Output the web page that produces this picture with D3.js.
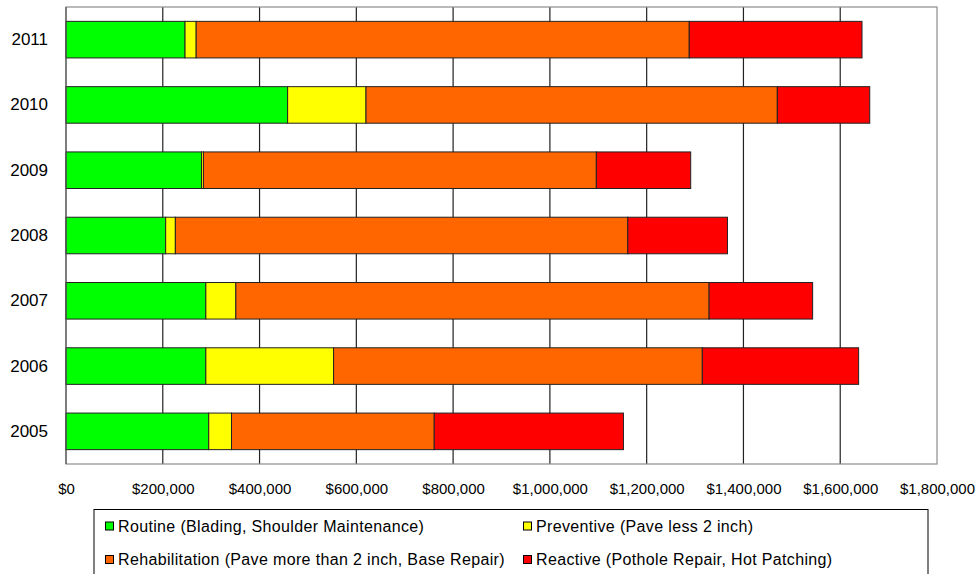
<!DOCTYPE html>
<html>
<head>
    <meta charset="utf-8">
    <title></title>
    <script src="https://d3js.org/d3.v7.min.js"></script>
    <style>
        html, body { margin: 0; padding: 0; background: white; }
        svg text { font-family: Arial, "Liberation Sans", sans-serif; fill: #000; }
    </style>
</head>
<body>
    <div id="chart"></div>
    <script>
        // years, top of chart first
        const years = ["2011", "2010", "2009", "2008", "2007", "2006", "2005"];

        const seriesNames = [
            "Routine (Blading, Shoulder Maintenance)",
            "Preventive (Pave less 2 inch)",
            "Rehabilitation (Pave more than 2 inch, Base Repair)",
            "Reactive (Pothole Repair, Hot Patching)"
        ];
        const seriesColors = ["#00ff00", "#ffff00", "#ff6600", "#ff0000"];

        // dollar amounts per year (same order as years)
        const routine        = [246000, 458000, 280000, 206000, 289000, 289000, 295000];
        const preventive     = [23000, 162000, 4000, 20000, 62000, 264000, 47000];
        const rehabilitation = [1019000, 850000, 812000, 935000, 978000, 762000, 419000];
        const reactive       = [357000, 191000, 195000, 206000, 214000, 323000, 391000];

        const xTicks = [0, 200000, 400000, 600000, 800000, 1000000, 1200000, 1400000, 1600000, 1800000];

        const width = 979, height = 574;
        const plot = { left: 66, right: 937, top: 7, bottom: 464 };

        const svg = d3.select("#chart").append("svg")
            .attr("width", width)
            .attr("height", height);

        const x = d3.scaleLinear()
            .domain([0, 1800000])
            .range([plot.left, plot.right]);

        const y = d3.scaleBand()
            .domain(years)
            .range([plot.top, plot.bottom])
            .paddingInner(0.44)
            .paddingOuter(0.22);

        // gridlines
        svg.append("g")
            .selectAll("line")
            .data(xTicks.slice(1, -1))
            .enter()
            .append("line")
            .attr("x1", d => x(d)).attr("x2", d => x(d))
            .attr("y1", plot.top).attr("y2", plot.bottom)
            .attr("stroke", "#222")
            .attr("stroke-width", 1.2);

        // plot frame
        svg.append("rect")
            .attr("x", plot.left)
            .attr("y", plot.top)
            .attr("width", plot.right - plot.left)
            .attr("height", plot.bottom - plot.top)
            .attr("fill", "none")
            .attr("stroke", "#8c8c8c")
            .attr("stroke-width", 1.2);

        // stacked data
        const table = years.map((yr, i) => ({
            year: yr,
            s0: routine[i], s1: preventive[i], s2: rehabilitation[i], s3: reactive[i]
        }));
        const stack = d3.stack().keys(["s0", "s1", "s2", "s3"])(table);

        svg.append("g")
            .selectAll("g")
            .data(stack)
            .enter()
            .append("g")
            .attr("fill", (d, i) => seriesColors[i])
            .selectAll("rect")
            .data(d => d)
            .enter()
            .append("rect")
            .attr("x", d => x(d[0]))
            .attr("y", d => y(d.data.year))
            .attr("width", d => x(d[1]) - x(d[0]))
            .attr("height", y.bandwidth())
            .attr("stroke", "#222")
            .attr("stroke-width", 1);

        // left axis line drawn over bar edges
        svg.append("line")
            .attr("x1", plot.left).attr("x2", plot.left)
            .attr("y1", plot.top).attr("y2", plot.bottom)
            .attr("stroke", "#555")
            .attr("stroke-width", 1.2);

        // x axis labels
        const fmt = d3.format("$,");
        svg.append("g")
            .attr("transform", `translate(0,${plot.bottom})`)
            .call(d3.axisBottom(x).tickValues(xTicks).tickFormat(d => fmt(d)).tickSize(0).tickPadding(19))
            .call(g => g.select(".domain").remove())
            .selectAll("text")
            .style("font-size", "15px")
            .attr("fill", "#000");

        // y axis labels
        svg.append("g")
            .attr("transform", `translate(${plot.left},0)`)
            .call(d3.axisLeft(y).tickSize(0).tickPadding(18))
            .call(g => g.select(".domain").remove())
            .selectAll("text")
            .style("font-size", "17px")
            .attr("fill", "#000");

        // legend
        const legend = svg.append("g");
        legend.append("rect")
            .attr("x", 94).attr("y", 509.5)
            .attr("width", 834).attr("height", 80)
            .attr("fill", "white")
            .attr("stroke", "#000")
            .attr("stroke-width", 1);

        const colX = [105, 523];
        const rowY = [526, 559.5];
        const items = legend.selectAll("g.item")
            .data(seriesNames)
            .enter()
            .append("g")
            .attr("class", "item")
            .attr("transform", (d, i) => `translate(${colX[i % 2]},${rowY[Math.floor(i / 2)]})`);

        items.append("rect")
            .attr("x", 0.5).attr("y", -4)
            .attr("width", 8).attr("height", 8)
            .attr("fill", (d, i) => seriesColors[i])
            .attr("stroke", "#000");

        items.append("text")
            .attr("x", 13)
            .attr("dy", "0.35em")
            .style("font-size", "16px")
            .style("letter-spacing", "0.35px")
            .text(d => d);
    </script>
</body>
</html>
